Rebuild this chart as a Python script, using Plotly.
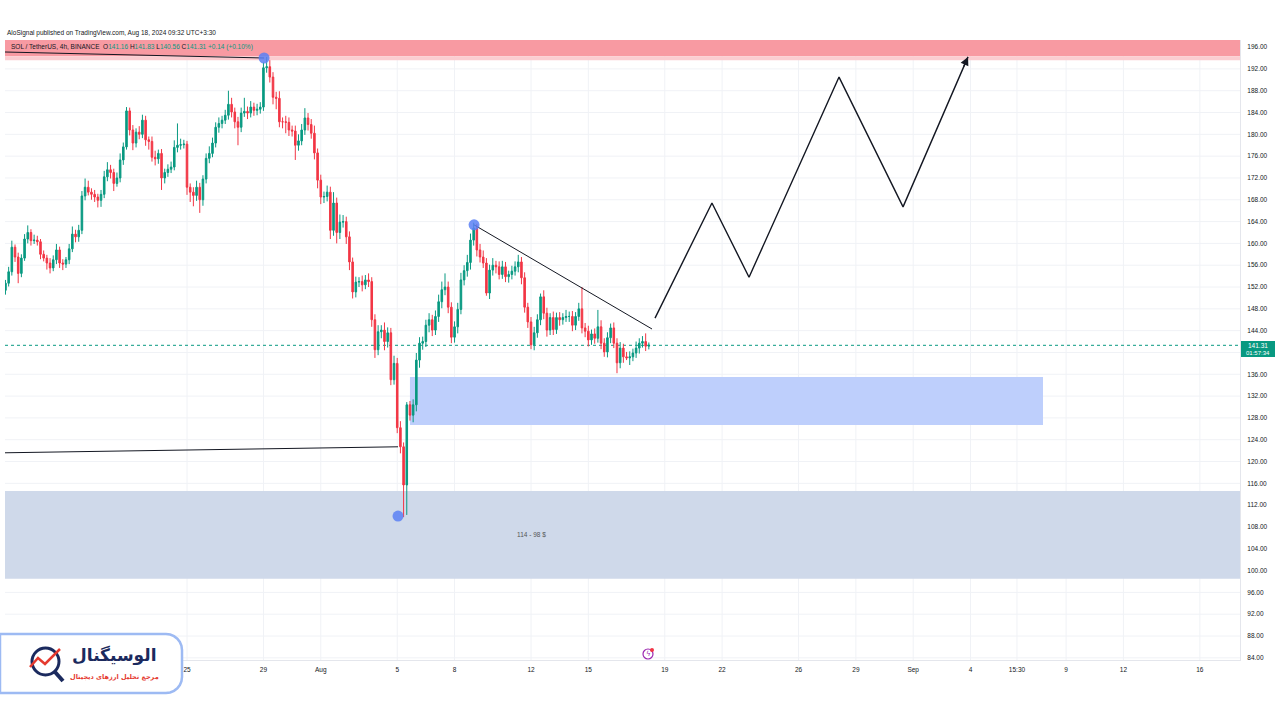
import plotly.graph_objects as go
import pandas as pd
import math

# ---------------- data ----------------
last_candle_time = "2024-08-18 04:00"
first_open = 151.4
closes = [
    152.7, 154.8, 159.3, 157.5, 154.5, 157.3, 160.8, 162.0, 160.5, 160.6,
    160.3, 158.0, 157.3, 156.4, 155.5, 157.0, 158.8, 156.4, 156.2, 157.0,
    159.0, 161.7, 161.2, 162.4, 168.7, 170.3, 169.4, 169.0, 168.5, 167.9,
    169.0, 172.2, 173.5, 173.0, 171.0, 172.0, 175.3, 177.7, 184.3, 180.8,
    178.4, 180.4, 180.0, 182.6, 179.0, 178.7, 175.8, 175.5, 176.5, 172.0,
    173.0, 173.6, 174.0, 177.6, 178.0, 178.1, 178.2, 170.3, 169.4, 168.8,
    170.3, 168.0, 171.8, 175.6, 176.5, 178.4, 181.3, 182.0, 182.6, 183.5,
    185.5, 184.1, 182.3, 181.3, 183.9, 184.2, 183.9, 185.0, 184.4, 184.6,
    185.0, 192.2, 192.4, 190.5, 186.8, 186.6, 182.3, 182.3, 182.2, 180.8,
    180.6, 178.0, 178.8, 180.8, 183.0, 181.8, 180.2, 176.6, 171.6, 168.5,
    168.6, 169.4, 162.4, 167.4, 162.0, 163.9, 164.0, 161.2, 156.6, 151.1,
    152.9, 153.0, 152.4, 153.3, 153.0, 146.0, 140.5, 143.8, 144.1, 142.0,
    143.6, 135.0, 138.0, 126.2, 122.7, 115.7, 130.4, 128.5, 130.4, 138.6,
    141.7, 142.0, 145.0, 146.0, 144.1, 146.6, 149.3, 151.5, 152.0, 148.3,
    142.8, 144.7, 147.9, 153.3, 155.0, 156.5, 160.6, 162.8, 158.8, 157.5,
    156.4, 150.9, 155.1, 156.0, 155.7, 154.3, 155.7, 153.9, 154.3, 154.9,
    155.7, 156.6, 153.7, 148.3, 145.6, 141.4, 143.6, 146.0, 150.2, 147.2,
    144.1, 146.4, 144.2, 146.4, 146.0, 146.4, 146.6, 146.6, 145.0, 146.6,
    148.0, 144.5, 143.9, 142.3, 143.4, 142.6, 144.7, 141.7, 140.1, 142.7,
    144.5, 141.7, 138.1, 140.8, 139.2, 139.0, 139.2, 139.9, 140.8, 141.7,
    142.0, 141.16, 141.31,
]
upper_wick = [
    0.6, 0.9, 1.2, 0.5, 0.8, 0.7, 0.9, 1.3, 0.6, 1.0,
    0.8, 0.5, 0.7, 0.6, 0.9, 0.8, 1.1, 0.6, 0.7, 0.5,
    0.9, 1.4, 0.8, 1.0, 0.9, 1.6, 1.2, 0.7, 0.8, 0.6,
    0.8, 1.1, 1.4, 0.9, 0.7, 1.0, 1.2, 0.8, 0.7, 0.6,
    0.9, 0.7, 1.1, 1.0, 0.8, 0.6, 0.9, 1.2, 0.7, 0.8,
    0.7, 0.9, 1.0, 1.3, 4.0, 1.1, 0.8, 0.6, 0.7, 0.9,
    1.2, 0.8, 0.7, 0.9, 1.3, 1.0, 0.9, 1.1, 0.8, 1.0,
    2.5, 1.2, 0.8, 0.9, 1.0, 2.5, 0.9, 1.1, 0.8, 1.0,
    0.9, 1.0, 1.8, 1.2, 0.9, 1.0, 1.3, 0.8, 1.1, 0.9,
    0.8, 1.0, 1.2, 1.1, 1.8, 0.9, 1.0, 1.4, 0.8, 1.0,
    0.9, 1.2, 1.0, 2.0, 1.0, 1.4, 1.2, 0.9, 1.0, 0.8,
    1.0, 0.8, 1.1, 0.9, 1.2, 0.8, 1.0, 1.2, 0.9, 1.4,
    1.0, 0.9, 1.4, 1.0, 1.2, 0.8, 0.5, 0.7, 1.0, 1.3,
    1.1, 0.9, 1.0, 1.2, 0.9, 1.1, 1.3, 1.5, 2.5, 1.0,
    0.9, 1.0, 1.2, 1.3, 1.0, 1.4, 1.2, 1.0, 0.8, 1.1,
    1.2, 0.9, 1.0, 1.3, 0.8, 1.0, 1.1, 0.9, 0.7, 1.0,
    1.0, 1.3, 0.9, 1.0, 0.8, 0.9, 1.1, 1.0, 0.6, 1.2,
    1.0, 0.8, 1.1, 0.9, 1.0, 0.8, 1.2, 0.9, 1.0, 0.8,
    1.1, 4.0, 0.9, 1.0, 0.8, 1.0, 3.1, 1.2, 0.9, 1.0,
    0.8, 1.0, 0.9, 1.1, 0.8, 0.9, 1.0, 0.8, 1.2, 0.9,
    1.0, 1.5, 0.52,
]
lower_wick = [
    0.8, 0.6, 0.7, 0.9, 1.8, 0.7, 0.5, 0.8, 0.9, 0.6,
    0.7, 0.9, 0.6, 1.2, 1.0, 0.6, 0.8, 0.9, 1.1, 0.7,
    0.8, 0.6, 1.0, 0.9, 0.7, 0.8, 0.6, 1.0, 0.9, 1.3,
    1.2, 0.7, 0.8, 1.1, 1.4, 0.6, 0.8, 0.9, 0.5, 1.0,
    1.3, 0.8, 0.9, 0.7, 1.1, 1.5, 0.8, 1.2, 0.9, 2.2,
    1.0, 0.8, 0.7, 0.6, 0.9, 0.8, 0.7, 1.4, 1.8, 2.0,
    1.0, 2.4, 1.1, 0.8, 0.9, 0.7, 0.8, 1.0, 0.9, 0.7,
    0.8, 1.0, 1.2, 3.3, 0.9, 0.7, 1.1, 0.8, 1.0, 0.9,
    0.8, 0.7, 0.9, 1.0, 1.3, 2.0, 1.0, 1.2, 2.0, 1.1,
    1.0, 2.7, 1.0, 0.8, 0.9, 1.1, 1.0, 1.2, 1.5, 1.3,
    1.1, 0.9, 1.6, 1.0, 2.0, 1.2, 1.0, 1.3, 1.5, 1.2,
    1.0, 0.9, 1.2, 0.8, 1.0, 1.3, 1.5, 1.0, 1.2, 1.6,
    1.1, 1.0, 0.9, 1.0, 1.2, 5.9, 5.5, 1.0, 1.3, 1.2,
    1.4, 1.2, 1.0, 1.3, 1.1, 0.9, 1.0, 1.2, 1.0, 1.1,
    1.1, 1.0, 1.2, 0.9, 1.0, 1.1, 1.3, 1.0, 1.2, 1.0,
    0.9, 0.5, 1.1, 1.0, 1.2, 0.9, 0.8, 1.0, 1.1, 0.9,
    0.8, 1.0, 1.2, 1.0, 1.1, 0.8, 1.0, 0.9, 1.0, 1.1,
    1.2, 0.9, 1.0, 0.8, 1.1, 0.9, 0.8, 1.0, 1.1, 0.9,
    0.8, 1.0, 1.1, 1.2, 0.9, 1.0, 0.8, 1.1, 0.9, 1.0,
    1.0, 0.9, 1.9, 1.0, 1.1, 0.4, 1.3, 0.8, 0.9, 1.0,
    0.8, 0.9, 0.6,
]

pivot_times = ["2024-07-29 00:45", "2024-08-05 01:00", "2024-08-09 00:30"]
pivot_prices = [194.0, 110.0, 163.4]

top_line_times = ["2024-07-15 11:25", "2024-07-29 00:45"]
top_line_prices = [195.1, 194.0]
low_line_times = ["2024-07-15 11:25", "2024-08-05 01:00"]
low_line_prices = [121.6, 122.7]
trend_times = ["2024-08-09 00:30", "2024-08-18 08:00"]
trend_prices = [163.4, 144.3]

proj_times = ["2024-08-18 11:45", "2024-08-21 11:15", "2024-08-23 09:50",
              "2024-08-28 02:50", "2024-08-31 11:15", "2024-09-03 20:50"]
proj_prices = [146.3, 167.4, 153.8, 190.5, 166.7, 194.2]

supply_zone = (193.6, 197.3)
demand_zone_times = ("2024-08-05 16:00", "2024-09-07 19:00")
demand_zone = (126.7, 135.5)
support_zone = (98.5, 114.6)
support_label = "114 - 98 $"
support_label_pos = ("2024-08-12 00:00", 106.7)

last_price = 141.31

price_ticks = [196, 192, 188, 184, 180, 176, 172, 168, 164, 160, 156, 152, 148, 144,
               136, 132, 128, 124, 120, 116, 112, 108, 104, 100, 96, 92, 88, 84]
grid_prices = [196, 192, 188, 184, 180, 176, 172, 168, 164, 160, 156, 152, 148, 144,
               140, 136, 132, 128, 124, 120, 116, 112, 108, 104, 100, 96, 92, 88, 84]
date_tick_vals = ["2024-07-25", "2024-07-29", "2024-08-01", "2024-08-05", "2024-08-08",
                  "2024-08-12", "2024-08-15", "2024-08-19", "2024-08-22", "2024-08-26",
                  "2024-08-29", "2024-09-01", "2024-09-04", "2024-09-06 10:20",
                  "2024-09-09", "2024-09-12", "2024-09-16"]
date_tick_text = ["25", "29", "Aug", "5", "8", "12", "15", "19", "22", "26", "29",
                  "Sep", "4", "15:30", "9", "12", "16"]

x_range = ["2024-07-15 11:25", "2024-09-18 02:25"]
y_range = [83.6, 197.3]

# ---------------- build ----------------
UP, DOWN = "#089981", "#F23645"
FONT = "Liberation Sans"
GRID = "#f0f2f6"

times = pd.date_range(end=last_candle_time, periods=len(closes), freq="4h")
opens = [first_open] + closes[:-1]
highs = [max(o, c) + u for o, c, u in zip(opens, closes, upper_wick)]
lows = [min(o, c) - d for o, c, d in zip(opens, closes, lower_wick)]

# page layout (pixels)
L, R, T, B = 5, 1240, 40, 660
W, H = 1280, 720


def px(x):
    return (x - L) / (R - L)


def py(y):
    return (B - y) / (B - T)


fig = go.Figure()

fig.add_trace(go.Candlestick(
    x=times, open=opens, high=highs, low=lows, close=closes,
    increasing=dict(line=dict(color=UP, width=1), fillcolor=UP),
    decreasing=dict(line=dict(color=DOWN, width=1), fillcolor=DOWN),
    whiskerwidth=0, showlegend=False, hoverinfo="skip",
))

line_style = dict(color="#131722", width=1)
for tx, ty in [(top_line_times, top_line_prices), (low_line_times, low_line_prices),
               (trend_times, trend_prices)]:
    fig.add_trace(go.Scatter(x=tx, y=ty, mode="lines", line=line_style,
                             showlegend=False, hoverinfo="skip"))

fig.add_trace(go.Scatter(x=proj_times, y=proj_prices, mode="lines",
                         line=dict(color="#131722", width=1.4),
                         showlegend=False, hoverinfo="skip"))

fig.add_trace(go.Scatter(x=pivot_times, y=pivot_prices, mode="markers",
                         marker=dict(size=11, color="rgba(91,128,245,0.85)"),
                         showlegend=False, hoverinfo="skip"))

# grid lines first (below), zones drawn over them
shapes = []
for gp in grid_prices:
    shapes.append(dict(type="line", xref="paper", x0=0, x1=1, yref="y", y0=gp, y1=gp,
                       line=dict(color=GRID, width=1), layer="below"))
for gd in date_tick_vals:
    shapes.append(dict(type="line", xref="x", x0=gd, x1=gd, yref="paper", y0=0, y1=1,
                       line=dict(color=GRID, width=1), layer="below"))

shapes += [
    dict(type="rect", xref="paper", x0=0, x1=1, yref="y",
         y0=supply_zone[0] + 0.7, y1=supply_zone[1],
         fillcolor="rgb(248,154,162)", line=dict(width=0), layer="below"),
    dict(type="rect", xref="paper", x0=0, x1=1, yref="y",
         y0=supply_zone[0], y1=supply_zone[0] + 0.7,
         fillcolor="rgb(251,205,209)", line=dict(width=0), layer="below"),
    dict(type="rect", xref="x", x0=demand_zone_times[0], x1=demand_zone_times[1],
         yref="y", y0=demand_zone[0], y1=demand_zone[1],
         fillcolor="rgb(190,207,252)", line=dict(width=0), layer="below"),
    dict(type="rect", xref="paper", x0=0, x1=1, yref="y",
         y0=support_zone[0], y1=support_zone[1],
         fillcolor="rgb(207,217,234)", line=dict(width=0), layer="below"),
    dict(type="line", xref="paper", x0=0, x1=1, yref="y", y0=last_price, y1=last_price,
         line=dict(color=UP, width=1, dash="dot"), layer="below"),
    # current price label box
    dict(type="rect", xref="paper", yref="paper",
         x0=px(1241), x1=px(1275), y0=py(357), y1=py(341),
         fillcolor=UP, line=dict(width=0), layer="above"),
    # event icon
    dict(type="circle", xref="paper", yref="paper",
         x0=px(643), x1=px(653), y0=py(659), y1=py(649),
         line=dict(color="#9c27b0", width=1.2), fillcolor="white", layer="above"),
    dict(type="circle", xref="paper", yref="paper",
         x0=px(650), x1=px(654), y0=py(652), y1=py(648),
         line=dict(width=0), fillcolor="#f23645", layer="above"),
]


def path_from(points, close=True):
    s = "M " + " L ".join(f"{px(x):.5f},{py(y):.5f}" for x, y in points)
    return s + (" Z" if close else "")


# logo box (rounded on the right)
r = 16
box_pts = [(0, 634), (182 - r, 634)]
for a in range(0, 91, 15):
    t = math.radians(90 - a)
    box_pts.append((182 - r + r * math.cos(t), 634 + r - r * math.sin(t)))
for a in range(0, 91, 15):
    t = math.radians(a)
    box_pts.append((182 - r + r * math.cos(t), 693 - r + r * math.sin(t)))
box_pts.append((0, 693))
shapes.append(dict(type="path", xref="paper", yref="paper", path=path_from(box_pts),
                   fillcolor="white", line=dict(color="#9dbaf3", width=2.5), layer="above"))
# logo icon: magnifier + zigzag
shapes.append(dict(type="circle", xref="paper", yref="paper",
                   x0=px(32), x1=px(59), y0=py(675), y1=py(648),
                   line=dict(color="#1b2a5e", width=3), fillcolor="white", layer="above"))
shapes.append(dict(type="line", xref="paper", yref="paper",
                   x0=px(55), x1=px(63), y0=py(672), y1=py(681),
                   line=dict(color="#1b2a5e", width=4), layer="above"))
shapes.append(dict(type="path", xref="paper", yref="paper",
                   path=path_from([(30, 667), (38, 658), (45, 664), (60, 649)], close=False),
                   line=dict(color="#e53a2f", width=2.5), layer="above"))

annotations = [
    dict(xref="paper", yref="paper", x=px(5), y=py(33), xanchor="left", yanchor="middle",
         showarrow=False, text="AloSignal published on TradingView.com, Aug 18, 2024 09:32 UTC+3:30",
         font=dict(family=FONT, size=6.5, color="#131722")),
    dict(xref="paper", yref="paper", x=px(9), y=py(47), xanchor="left", yanchor="middle",
         showarrow=False,
         text=("SOL / TetherUS, 4h, BINANCE  O<span style='color:#089981'>141.16</span> "
               "H<span style='color:#089981'>141.83</span> L<span style='color:#089981'>140.56</span> "
               "C<span style='color:#089981'>141.31</span> "
               "<span style='color:#089981'>+0.14 (+0.10%)</span>"),
         font=dict(family=FONT, size=6.5, color="#131722")),
    dict(x=support_label_pos[0], y=support_label_pos[1], xref="x", yref="y",
         xanchor="center", yanchor="middle",
         showarrow=False, text=support_label, font=dict(family=FONT, size=6.5, color="#555")),
    dict(xref="paper", yref="paper", x=px(1258), y=py(345.5), xanchor="center", yanchor="middle",
         showarrow=False, text="141.31", font=dict(family=FONT, size=6.5, color="white")),
    dict(xref="paper", yref="paper", x=px(1258), y=py(353), xanchor="center", yanchor="middle",
         showarrow=False, text="01:57:34", font=dict(family=FONT, size=6, color="white")),
    dict(xref="paper", yref="paper", x=px(648), y=py(654), xanchor="center", yanchor="middle",
         showarrow=False, text="ϟ", font=dict(family="DejaVu Sans", size=7, color="#9c27b0")),
    # arrow head of the projection
    dict(x=proj_times[-1], y=proj_prices[-1], xref="x", yref="y", showarrow=True,
         ax=-5, ay=11, arrowhead=2, arrowsize=1.3, arrowwidth=1.3, arrowcolor="#131722",
         text=""),
    # logo texts
    dict(xref="paper", yref="paper", x=px(70), y=py(668), xanchor="left", yanchor="bottom",
         showarrow=False, text="<b>الوسیگنال</b>",
         font=dict(family="DejaVu Sans", size=17, color="#1b2a5e")),
    dict(xref="paper", yref="paper", x=px(68), y=py(683), xanchor="left", yanchor="bottom",
         showarrow=False, text="<b>مرجع تحلیل ارزهای دیجیتال</b>",
         font=dict(family="DejaVu Sans", size=6.5, color="#e53a2f")),
]

fig.update_layout(
    width=W, height=H,
    margin=dict(l=L, r=W - R, t=T, b=H - B, pad=0),
    paper_bgcolor="white", plot_bgcolor="white",
    shapes=shapes, annotations=annotations,
    showlegend=False,
    xaxis=dict(range=x_range, type="date", rangeslider=dict(visible=False),
               tickvals=date_tick_vals, ticktext=date_tick_text,
               showgrid=False, zeroline=False, showline=True, linecolor="#e4e6ec",
               ticks="", ticklabelstandoff=3, automargin=False,
               tickfont=dict(family=FONT, size=6.5, color="#131722")),
    yaxis=dict(range=y_range, side="right", tickvals=price_ticks,
               ticktext=[f"{v:.2f}" for v in price_ticks],
               showgrid=False, zeroline=False, showline=True, linecolor="#e4e6ec",
               ticks="", ticklabelstandoff=5, automargin=False,
               tickfont=dict(family=FONT, size=6.5, color="#131722")),
)

fig.write_html("out.html")
